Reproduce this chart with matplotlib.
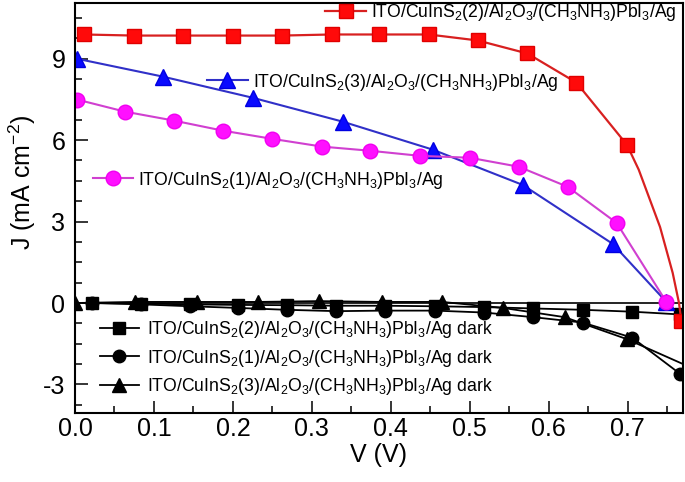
import matplotlib
matplotlib.use("Agg")
import matplotlib.pyplot as plt
from matplotlib.lines import Line2D
from matplotlib.ticker import MultipleLocator, FormatStrFormatter

plt.rcParams["font.family"] = ["Liberation Sans", "DejaVu Sans"]
plt.rcParams["mathtext.fontset"] = "custom"
plt.rcParams["mathtext.rm"] = "Liberation Sans"
plt.rcParams["mathtext.it"] = "Liberation Sans:italic"
plt.rcParams["mathtext.bf"] = "Liberation Sans:bold"

# illuminated J-V curves (markers)
red_v = [0.011, 0.075, 0.137, 0.200, 0.262, 0.325, 0.385, 0.448, 0.510, 0.573, 0.635, 0.699, 0.768]
red_j = [9.89, 9.85, 9.85, 9.85, 9.85, 9.89, 9.89, 9.89, 9.67, 9.19, 8.12, 5.83, -0.65]
# extra points along the red curve between the last markers
red_tail_v = [0.714, 0.741, 0.757, 0.765]
red_tail_j = [4.91, 2.80, 1.11, 0.0]

blue_v = [0.002, 0.111, 0.225, 0.339, 0.453, 0.567, 0.681, 0.749]
blue_j = [9.00, 8.34, 7.56, 6.68, 5.65, 4.35, 2.18, 0.04]

mag_v = [0.003, 0.063, 0.125, 0.187, 0.249, 0.313, 0.373, 0.437, 0.500, 0.562, 0.624, 0.686, 0.749]
mag_j = [7.49, 7.05, 6.72, 6.35, 6.05, 5.76, 5.61, 5.42, 5.35, 5.02, 4.28, 2.95, 0.04]

# dark curves
dsq_v = [0.022, 0.084, 0.146, 0.206, 0.268, 0.331, 0.392, 0.456, 0.518, 0.580, 0.643, 0.706, 0.766]
dsq_j = [0.0, -0.02, -0.05, -0.07, -0.08, -0.10, -0.10, -0.12, -0.15, -0.20, -0.25, -0.32, -0.42]

dci_v = [0.022, 0.084, 0.146, 0.206, 0.268, 0.331, 0.392, 0.456, 0.518, 0.580, 0.643, 0.706, 0.766]
dci_j = [0.0, -0.05, -0.12, -0.18, -0.25, -0.30, -0.28, -0.28, -0.35, -0.52, -0.72, -1.28, -2.60]

dtr_v = [0.0, 0.076, 0.155, 0.232, 0.309, 0.389, 0.465, 0.542, 0.620, 0.699, 0.778]
dtr_j = [0.0, 0.04, 0.04, 0.04, 0.07, 0.04, 0.04, -0.18, -0.52, -1.33, -2.35]

lab_red = r"ITO/CuInS$_2$(2)/Al$_2$O$_3$/(CH$_3$NH$_3$)PbI$_3$/Ag"
lab_blue = r"ITO/CuInS$_2$(3)/Al$_2$O$_3$/(CH$_3$NH$_3$)PbI$_3$/Ag"
lab_mag = r"ITO/CuInS$_2$(1)/Al$_2$O$_3$/(CH$_3$NH$_3$)PbI$_3$/Ag"
dark_labels = [lab_red + " dark", lab_mag + " dark", lab_blue + " dark"]

LEG_FS = 12.7

fig = plt.figure(figsize=(6.85, 4.82), dpi=100)
ax = fig.add_axes([0.1095, 0.1432, 0.8875, 0.8506])

ax.axhline(0, color="k", lw=1.2, zorder=1)

# dark curves first
h_dsq, = ax.plot(dsq_v, dsq_j, color="k", lw=1.3, marker="s", ms=8.5)
h_dci, = ax.plot(dci_v, dci_j, color="k", lw=1.3, marker="o", ms=9)
h_dtr, = ax.plot(dtr_v, dtr_j, color="k", lw=1.3, marker="^", ms=9.5)

# illuminated curves
line_v = sorted(red_v + red_tail_v)
line_j = [dict(zip(red_v + red_tail_v, red_j + red_tail_j))[v] for v in line_v]
ax.plot(line_v, line_j, color="#d82020", lw=1.6)
ax.plot(red_v, red_j, ls="none", marker="s", ms=10, mfc="#ff0a0a", mec="#e00000")
ax.plot(blue_v, blue_j, color="#3030c8", lw=1.5, marker="^", ms=11,
        mfc="#0a0aff", mec="#0000e0")
ax.plot(mag_v, mag_j, color="#d040d0", lw=1.5, marker="o", ms=10.5,
        mfc="#ff10ff", mec="#f000f0")

ax.set_xlim(0, 0.77)
ax.set_ylim(-4.05, 11.05)
ax.xaxis.set_major_locator(MultipleLocator(0.1))
ax.xaxis.set_minor_locator(MultipleLocator(0.05))
ax.yaxis.set_major_locator(MultipleLocator(3))
ax.yaxis.set_minor_locator(MultipleLocator(0.75))
ax.tick_params(which="both", direction="in", width=1.1, labelsize=18)
ax.tick_params(which="major", length=9)
ax.tick_params(which="minor", length=5)
ax.tick_params(axis="x", pad=3)
ax.tick_params(axis="y", pad=7)
ax.xaxis.set_major_formatter(FormatStrFormatter("%.1f"))
ax.yaxis.set_major_formatter(FormatStrFormatter("%d"))
for s in ax.spines.values():
    s.set_linewidth(1.5)

ax.set_xlabel("V (V)", fontsize=18, labelpad=1)
ax.set_ylabel(r"J (mA cm$^{-2}$)", fontsize=18)
ax.yaxis.set_label_coords(-0.061, 0.563)


def one_legend(handle, label, x, y, hl, pad):
    leg = ax.legend([handle], [label], loc="center left", bbox_to_anchor=(x, y),
                    frameon=False, borderpad=0, borderaxespad=0, fontsize=LEG_FS,
                    handlelength=hl, handletextpad=pad, numpoints=1)
    ax.add_artist(leg)


one_legend(Line2D([], [], color="#d82020", lw=1.6, marker="s", ms=10, mfc="#ff0a0a", mec="#e00000"),
           lab_red, 0.411, 0.976, 2.36, 0.28)
one_legend(Line2D([], [], color="#3030c8", lw=1.5, marker="^", ms=11, mfc="#0a0aff", mec="#0000e0"),
           lab_blue, 0.217, 0.807, 2.32, 0.28)
one_legend(Line2D([], [], color="#d040d0", lw=1.5, marker="o", ms=10.5, mfc="#ff10ff", mec="#f000f0"),
           lab_mag, 0.030, 0.568, 2.27, 0.24)

leg = ax.legend([h_dsq, h_dci, h_dtr], dark_labels, loc="center left",
                bbox_to_anchor=(0.041, 0.134), frameon=False, borderpad=0,
                borderaxespad=0, fontsize=LEG_FS, handlelength=2.2, handletextpad=0.45,
                labelspacing=0.42, numpoints=1)

fig.savefig("out.png", dpi=100)
